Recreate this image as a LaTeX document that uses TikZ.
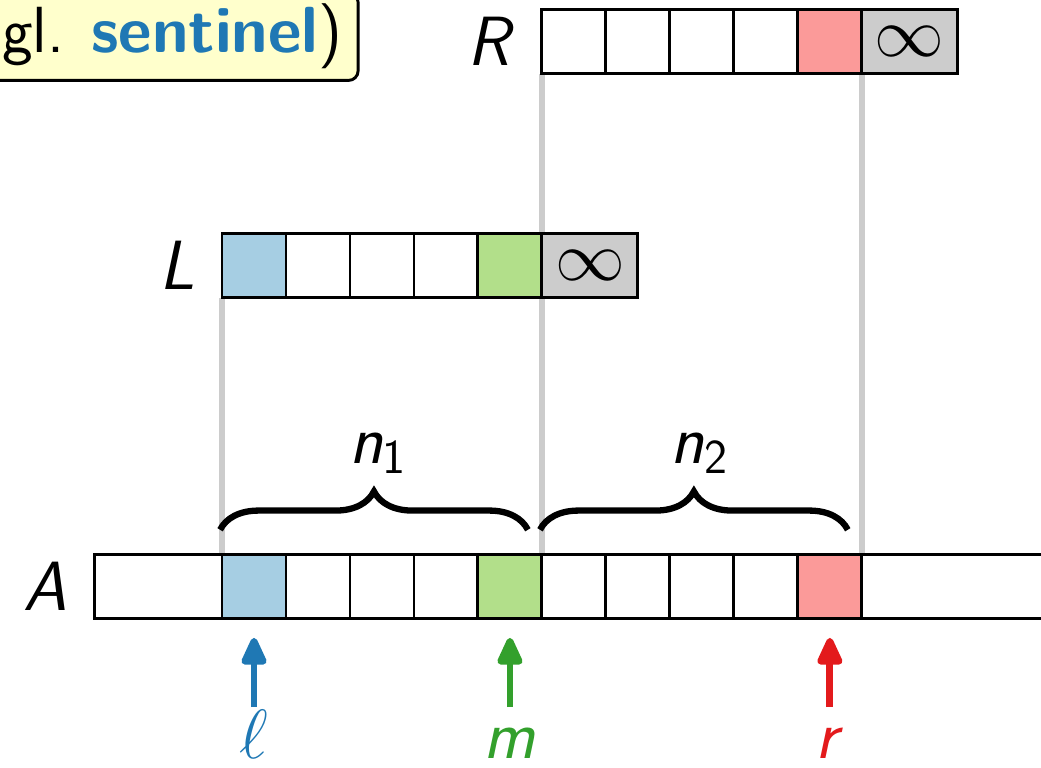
\RequirePackage{fix-cm}
\documentclass[tikz,border=0pt]{standalone}
\usepackage{amsmath}
\usepackage{fontspec}
\renewcommand{\familydefault}{\sfdefault}
\usepackage{tikz}
\usetikzlibrary{arrows.meta}
\usetikzlibrary{positioning}
\usetikzlibrary{decorations.pathreplacing}
\usetikzlibrary{backgrounds}

\definecolor{lblue}{HTML}{A6CEE3}
\definecolor{dblue}{HTML}{1F78B4}
\definecolor{lgreen}{HTML}{B2DF8A}
\definecolor{dgreen}{HTML}{33A02C}
\definecolor{lred}{HTML}{FB9A99}
\definecolor{dred}{HTML}{E31A1C}
\definecolor{sentgray}{HTML}{CCCCCC}
\definecolor{notebg}{HTML}{FFFFCC}

\tikzstyle{cell}=[draw,fill=white,line width=1.3pt,minimum width=1cm,minimum height=1cm,inner sep=0pt,outer sep=0pt]
\tikzstyle{guide}=[draw=sentgray,line width=2.5pt]
\tikzstyle{brace}=[decorate,decoration={brace,amplitude=0.6cm},line width=2.8pt]
\tikzstyle{ptr}=[line width=3pt,-{Triangle[length=0.5cm,width=0.42cm,round]},shorten >=0.31cm]
\tikzstyle{idx}=[anchor=base,inner sep=0pt]

\begin{document}
\begin{tikzpicture}[font=\fontsize{31}{37}\selectfont]
\useasboundingbox (0,0) rectangle (16.27,12);
\clip (0,0) rectangle (16.27,12);

% the array A and its two halves L, R
\node [cell,minimum width=2cm] (A0) at (2.47,2.84) {};
\foreach \i/\c in {1/lblue,2/white,3/white,4/white,5/lgreen,6/white,7/white,8/white,9/white,10/lred}
  \node [cell,fill=\c] (A\i) at (2.97+\i,2.84) {};
\node [cell,minimum width=4cm] (A11) at (15.47,2.84) {};

\foreach \i/\c in {1/lblue,2/white,3/white,4/white,5/lgreen}
  \node [cell,fill=\c] (L\i) at (2.97+\i,7.85) {};
\node [cell,fill=sentgray,minimum width=1.5cm,right=0pt of L5] (L6) {$\infty$};

\foreach \i/\c in {1/white,2/white,3/white,4/white,5/lred}
  \node [cell,fill=\c] (R\i) at (7.97+\i,11.35) {};
\node [cell,fill=sentgray,minimum width=1.5cm,right=0pt of R5] (R6) {$\infty$};

\node [left=0.3cm of A0] (nameA) {\textit{A}};
\node [left=0.3cm of L1] (nameL) {\textit{L}};
\node [left=0.3cm of R1] (nameR) {\textit{R}};

\begin{scope}[on background layer]
\draw [guide] (L1.south west) -- (A1.north west);
\draw [guide] (R1.south west) -- (A6.north west);
\draw [guide] (R5.south east) -- (A10.north east);
\end{scope}

% sizes of the halves
\draw [brace] ([xshift=-0.03cm,yshift=0.38cm]A1.north west) -- ([xshift=-0.22cm,yshift=0.38cm]A5.north east);
\draw [brace] ([xshift=-0.03cm,yshift=0.38cm]A6.north west) -- ([xshift=-0.22cm,yshift=0.38cm]A10.north east);
\node [anchor=base] (n1) at ([xshift=-0.06cm,yshift=1.42cm]A3.north) {$\textit{n}_{\text{1}}$};
\node [anchor=base] (n2) at ([xshift=-0.04cm,yshift=1.42cm]A8.north) {$\textit{n}_{\text{2}}$};

% index pointers
\coordinate (ellTail) at ([yshift=-1.39cm]A1.south);
\coordinate (mTail) at ([yshift=-1.39cm]A5.south);
\coordinate (rTail) at ([yshift=-1.39cm]A10.south);
\draw [ptr,dblue] (ellTail) -- (A1);
\draw [ptr,dgreen] (mTail) -- (A5);
\draw [ptr,dred] (rTail) -- (A10);
\node [idx,text=dblue] (ell) at ([yshift=-2.2cm]A1.south) {$\ell$};
\node [idx,text=dgreen] (m) at ([yshift=-2.2cm]A5.south) {\textit{m}};
\node [idx,text=dred] (r) at ([yshift=-2.2cm]A10.south) {\textit{r}};

\node [draw,fill=notebg,rounded corners=0.15cm,line width=1.3pt,inner xsep=7pt,inner ysep=5pt,anchor=south east,font=\fontsize{29}{35}\selectfont] (engl) at (5.62,10.72) {(engl. \textcolor{dblue}{\textbf{sentinel}})};
\end{tikzpicture}
\end{document}
